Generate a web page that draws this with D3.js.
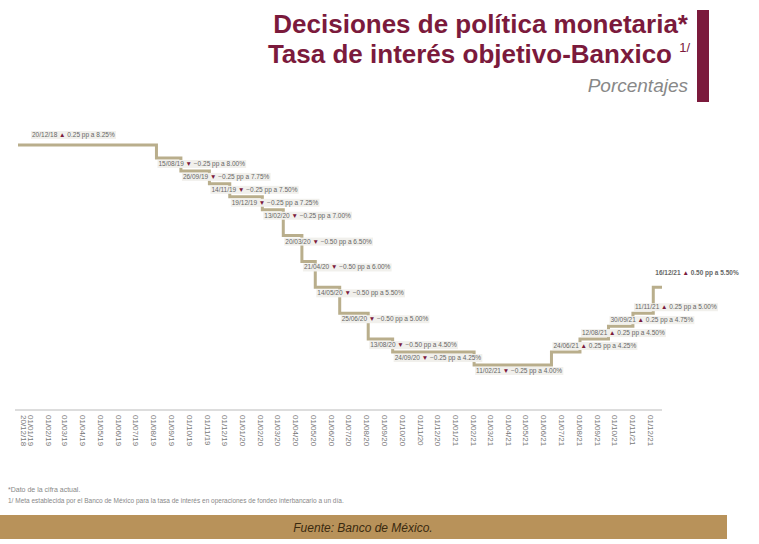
<!DOCTYPE html><html><head><meta charset="utf-8">
<script src="https://cdn.jsdelivr.net/npm/d3@7"></script>
<style>body{margin:0;background:#fff}</style></head><body>
<svg id="c" width="759" height="544"></svg>
<script>
const dates=["20/12/18","15/08/19","26/09/19","14/11/19","19/12/19","13/02/20","20/03/20","21/04/20","14/05/20","25/06/20","13/08/20","24/09/20","11/02/21","24/06/21","12/08/21","30/09/21","11/11/21","16/12/21"];
const changes=[0.25,-0.25,-0.25,-0.25,-0.25,-0.25,-0.50,-0.50,-0.50,-0.50,-0.50,-0.25,-0.25,0.25,0.25,0.25,0.25,0.50];
const rates=[8.25,8.00,7.75,7.50,7.25,7.00,6.50,6.00,5.50,5.00,4.50,4.25,4.00,4.25,4.50,4.75,5.00,5.50];
const endDate="31/12/21";
const p=d3.timeParse("%d/%m/%y"), f=d3.timeFormat("%d/%m/%y");
const svg=d3.select("#c");
const x=d3.scaleTime().domain([p(dates[0]),p(endDate)]).range([18,662]);
const y=d3.scaleLinear().domain([4,8.25]).range([365,145]);
const pts=dates.map((d,i)=>({d:p(d),r:rates[i],c:changes[i],s:d}));
pts.push({d:p(endDate),r:rates[rates.length-1]});
svg.append("path").datum(pts).attr("fill","none").attr("stroke","#b9ae8c").attr("stroke-width",3)
 .attr("d",d3.line().x(d=>x(d.d)).y(d=>y(d.r)).curve(d3.curveStepAfter));
pts.slice(0,-1).forEach((d,i)=>{
 const up=d.c>0, last=i===dates.length-1;
 const tx=i===0?32:x(d.d)+2, ty=i===0?y(d.r)-8:(last?y(d.r)-12:y(d.r)+(up?-4:8));
 const g=svg.append("g").attr("transform",`translate(${tx},${ty})`);
 const t=g.append("text").attr("font-family","Liberation Sans").attr("font-size",6.5).attr("fill","#666").attr("font-weight",last?"bold":"normal");
 t.append("tspan").text(d.s+" ");
 t.append("tspan").attr("fill","#7b1a3c").text(up?"▲":"▼");
 t.append("tspan").text(" "+d3.format(".2f")(d.c)+" pp a "+d3.format(".2f")(d.r)+"%");
 const b=t.node().getBBox();
 if(!last) g.insert("rect","text").attr("x",b.x-1).attr("y",b.y).attr("width",b.width+2).attr("height",b.height).attr("fill","#f1f0ec");
});
const ticks=d3.timeMonth.range(p("01/01/19"),p("01/01/22"));
ticks.unshift(p(dates[0]));
svg.append("line").attr("x1",15).attr("x2",662).attr("y1",410).attr("y2",410).attr("stroke","#bbb");
ticks.forEach(t=>{
 svg.append("text").attr("transform",`translate(${x(t)+3},415) rotate(90)`).attr("font-family","Liberation Sans").attr("font-size",8).attr("fill","#777").text(f(t));
});
const T=svg.append("g").attr("font-family","Liberation Sans").attr("text-anchor","end");
T.append("text").attr("x",688).attr("y",33).attr("font-size",26).attr("font-weight","bold").attr("fill","#7b1a3c").text("Decisiones de política monetaria*");
T.append("text").attr("x",672).attr("y",63).attr("font-size",26).attr("font-weight","bold").attr("fill","#7b1a3c").text("Tasa de interés objetivo-Banxico");
T.append("text").attr("x",690).attr("y",52).attr("font-size",13).attr("fill","#7b1a3c").text("1/");
T.append("text").attr("x",688).attr("y",92).attr("font-size",19).attr("font-style","italic").attr("fill","#888").text("Porcentajes");
svg.append("rect").attr("x",697).attr("y",10).attr("width",12).attr("height",92).attr("fill","#7b1a3c");
svg.append("text").attr("x",8).attr("y",492).attr("font-family","Liberation Sans").attr("font-size",7).attr("fill","#888").text("*Dato de la cifra actual.");
svg.append("text").attr("x",8).attr("y",503).attr("font-family","Liberation Sans").attr("font-size",6.5).attr("fill","#888").text("1/ Meta establecida por el Banco de México para la tasa de interés en operaciones de fondeo interbancario a un día.");
svg.append("rect").attr("x",0).attr("y",515).attr("width",727).attr("height",24).attr("fill","#b8925a");
svg.append("text").attr("x",363).attr("y",532).attr("text-anchor","middle").attr("font-family","Liberation Sans").attr("font-size",12).attr("font-style","italic").attr("fill","#3a2a10").text("Fuente: Banco de México.");
</script></body></html>
